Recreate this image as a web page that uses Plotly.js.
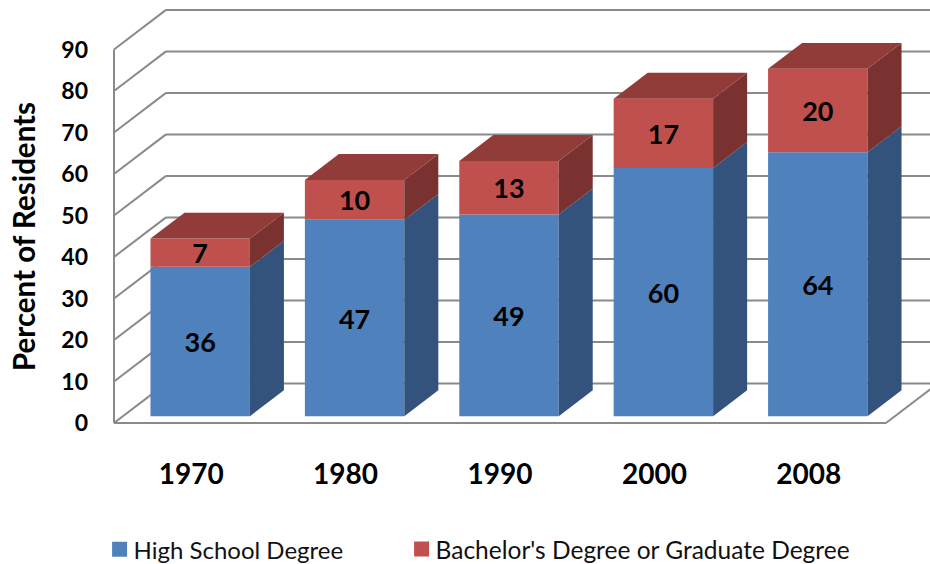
<!DOCTYPE html>
<html>
<head>
<meta charset="utf-8">
<script src="https://cdn.plot.ly/plotly-3.0.1.min.js"></script>
<style>html,body{margin:0;padding:0;background:#fff;overflow:hidden}</style>
</head>
<body>
<div id="chart" style="width:930px;height:564px"></div>
<script>
const years = ['1970', '1980', '1990', '2000', '2008'];
const highSchool = [36.0, 47.3, 48.6, 59.8, 63.6];
const bachelors = [6.8, 9.6, 12.9, 16.7, 20.1];
const yTicks = [0, 10, 20, 30, 40, 50, 60, 70, 80, 90];

// oblique projection of the 3D box: depth 1 shifts a point by this many axis units
const slotPx = 154.4, unitPx = 4.15, depthPxX = 52, depthPxY = 39.6;
const depthX = depthPxX / slotPx, depthY = depthPxY / unitPx;
const d0 = 0.173, d1 = 0.827, barW = 0.644;
const mL = 112, mB = 139, W = 930, H = 564;
const font = 'Lato, sans-serif';
const gridColor = '#8a8a8a';
const legendTextCentre = 549;

const slots = years.map((_, i) => i + 0.5);
const frontX = slots.map(s => s + d0 * depthX);
const baseY = d0 * depthY;

function gridPath(pts) {
  return pts.slice(1).map((p, i) => ({
    type: 'line', layer: 'below', xref: 'x', yref: 'y',
    x0: pts[i][0], y0: pts[i][1], x1: p[0], y1: p[1],
    line: {color: gridColor, width: 2}
  }));
}
const nSlots = years.length;
let gridShapes = [];
yTicks.forEach(t => {
  gridShapes = gridShapes.concat(gridPath([[0, t], [depthX, t + depthY], [nSlots + depthX, t + depthY]]));
});
gridShapes = gridShapes.concat(gridPath([[0, yTicks[yTicks.length - 1]], [0, 0], [nSlots, 0], [nSlots + depthX, depthY]]));

function sideFace(x, lo, hi) {
  const r = x + barW / 2, dx = (d1 - d0) * depthX, dy = (d1 - d0) * depthY;
  return [[r, lo], [r + dx, lo + dy], [r + dx, hi + dy], [r, hi], [r, lo]];
}
function topFace(x, hi) {
  const l = x - barW / 2, r = x + barW / 2, dx = (d1 - d0) * depthX, dy = (d1 - d0) * depthY;
  return [[l, hi], [l + dx, hi + dy], [r + dx, hi + dy], [r, hi], [l, hi]];
}
function poly(list, color) {
  const xs = [], ys = [];
  list.forEach(p => { p.forEach(q => { xs.push(q[0]); ys.push(q[1]); }); xs.push(null); ys.push(null); });
  return {type: 'scatter', mode: 'lines', x: xs, y: ys, fill: 'toself', fillcolor: color,
    line: {width: 0, color: color}, showlegend: false, hoverinfo: 'skip'};
}

const labelFont = {family: font, size: 27, color: '#000', weight: 700};
const traces = [
  poly(frontX.map((x, i) => sideFace(x, baseY, baseY + highSchool[i])), '#33527C'),
  poly(frontX.map((x, i) => sideFace(x, baseY + highSchool[i], baseY + highSchool[i] + bachelors[i])), '#7A3230'),
  poly(frontX.map((x, i) => topFace(x, baseY + highSchool[i] + bachelors[i])), '#923C3A'),
  {type: 'bar', name: 'High School Degree', x: frontX, y: highSchool, base: years.map(() => baseY),
    width: barW, marker: {color: '#4F81BD'}, text: highSchool.map(v => String(Math.round(v))),
    textposition: 'inside', insidetextanchor: 'middle', textangle: 0, constraintext: 'none',
    insidetextfont: labelFont, hoverinfo: 'x+y', legend: 'legend'},
  {type: 'bar', name: "Bachelor's Degree or Graduate Degree", x: frontX, y: bachelors,
    base: highSchool.map(v => baseY + v),
    width: barW, marker: {color: '#C0504D'}, text: bachelors.map(v => String(Math.round(v))),
    textposition: 'inside', insidetextanchor: 'middle', textangle: 0, constraintext: 'none',
    insidetextfont: labelFont, hoverinfo: 'x+y', legend: 'legend2'}
];

const legendBase = {
  orientation: 'h', xanchor: 'left', yanchor: 'middle', y: 40 / H,
  bgcolor: 'rgba(0,0,0,0)', itemclick: false, itemdoubleclick: false
};

const layout = {
  width: W, height: H,
  margin: {l: 0, r: 0, t: 0, b: 0},
  paper_bgcolor: '#fff', plot_bgcolor: '#fff',
  barmode: 'overlay',
  shapes: gridShapes,
  xaxis: {
    domain: [mL / W, 1],
    range: [-(114 - mL) / slotPx, (W - 114) / slotPx],
    tickmode: 'array', tickvals: slots, ticktext: years,
    ticks: '', showgrid: false, zeroline: false, showline: false,
    tickfont: {family: font, size: 28, color: '#000', weight: 700},
    ticklabelstandoff: 30
  },
  yaxis: {
    domain: [mB / H, 1],
    range: [-2 / unitPx, 423 / unitPx],
    tickmode: 'array', tickvals: yTicks,
    ticks: '', showgrid: false, zeroline: false, showline: false,
    tickfont: {family: font, size: 23, color: '#000', weight: 700},
    ticklabelstandoff: 23
  },
  annotations: [{
    text: 'Percent of Residents', textangle: -90, showarrow: false,
    xref: 'paper', yref: 'paper', x: 23.5 / W, y: 1 - 236.5 / H, xanchor: 'center', yanchor: 'middle',
    font: {family: font, size: 29.5, color: '#000', weight: 700}
  }],
  legend: Object.assign({}, legendBase, {x: 93.6 / W, font: {family: font, size: 24, color: '#111'}}),
  legend2: Object.assign({}, legendBase, {x: 395.6 / W, font: {family: font, size: 24.5, color: '#111'}})
};

Plotly.newPlot('chart', traces, layout, {displayModeBar: false, responsive: false}).then(gd => {
  // Excel-style legend keys: larger squares sitting closer to their text, legend low on the page
  gd.querySelectorAll('.infolayer > g.legend, .infolayer > g.legend2').forEach(g => {
    g.querySelectorAll('.legendpoints path').forEach(p => {
      p.setAttribute('d', 'M7.5,7.5H-7.5V-7.5H7.5Z');
      p.setAttribute('transform', 'translate(26,0)');
    });
    const m = /translate\(([-\d.]+),\s*([-\d.]+)\)/.exec(g.getAttribute('transform'));
    const r = g.querySelector('text').getBoundingClientRect();
    if (m) g.setAttribute('transform', `translate(${m[1]},${+m[2] + legendTextCentre - (r.top + r.bottom) / 2})`);
  });
});
</script>
</body>
</html>
